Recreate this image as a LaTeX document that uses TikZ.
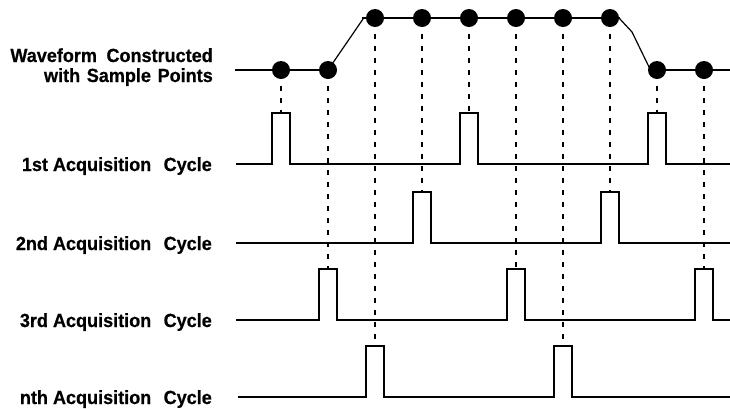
\documentclass[tikz,border=0pt]{standalone}
\usepackage{fontspec}
\setmainfont{Liberation Sans}[BoldFeatures={FakeBold=0.6}]
\pgfdeclarelayer{bg}
\pgfsetlayers{bg,main}
\newcommand{\narrow}[1]{\scalebox{0.95}[1]{#1}}
\begin{document}
\begin{tikzpicture}[x=1pt,y=-1pt,
  wave/.style={line width=2pt},
  ramp/.style={line width=1.2pt},
  trace/.style={line width=1.7pt},
  guide/.style={line width=2pt, dash pattern=on 5pt off 7pt, dash phase=8pt},
  sample/.style={circle, fill=black, inner sep=0pt, minimum size=18pt},
  lab/.style={anchor=base east, inner sep=0pt, font=\bfseries\fontsize{19}{20}\selectfont}]
\useasboundingbox (0,0) rectangle (730,408);

% row captions
\node[lab] (wave1) at (213,62) {\narrow{Waveform\hspace{10pt}Constructed}};
\node[lab] (wave2) at (213,82) {\narrow{with\hspace{7pt}Sample\hspace{7pt}Points}};
\node[lab] (cyc1) at (212,171) {\narrow{1st Acquisition\hspace{13pt}Cycle}};
\node[lab] (cyc2) at (212,250) {\narrow{2nd Acquisition\hspace{13pt}Cycle}};
\node[lab] (cyc3) at (212,327) {\narrow{3rd Acquisition\hspace{13pt}Cycle}};
\node[lab] (cycn) at (212,404) {\narrow{nth Acquisition\hspace{13pt}Cycle}};

% sample points on the reconstructed waveform
\foreach \i/\x/\y in {0/281/70,1/328/70,2/375/18,3/422/18,4/469/18,
                      5/516/18,6/563/18,7/610/18,8/657/70,9/704/70}
  \node[sample] (d\i) at (\x,\y) {};

% tops of the acquisition pulses
\foreach \i/\x/\y in {0/281/113,1/328/269,2/375/346,3/422/192,4/469/113,
                      5/516/269,6/563/346,7/610/192,8/657/113,9/704/269}
  \coordinate (p\i) at (\x,\y);

\coordinate (wstart) at (235,70);
\coordinate (wend) at (730,70);

\begin{pgfonlayer}{bg}
  % waveform through the sample points
  \draw[wave] (wstart) -- (d0.center) -- (d1.center);
  \draw[ramp] (d1.center) -- (363,19);
  \draw[wave] (362,18) -- (d2.center) -- (d3.center) -- (d4.center)
    -- (d5.center) -- (d6.center) -- (d7.center) -- (620,18);
  \draw[ramp] (619,18) -- (632,32) -- (650,69);
  \draw[wave] (649,70) -- (d8.center) -- (d9.center) -- (wend);

  % projections from each sample to its acquisition pulse
  \foreach \i in {0,...,9}
    \draw[guide] (d\i.center) -- (p\i);
\end{pgfonlayer}

% acquisition cycles
\draw[trace] (236,164) -| (272,113) -| (290,164) -| (460,113) -| (478,164)
  -| (648,113) -| (666,164) -- (730,164);
\draw[trace] (236,243) -| (413,192) -| (431,243) -| (601,192) -| (619,243)
  -- (730,243);
\draw[trace] (236,320) -| (319,269) -| (337,320) -| (507,269) -| (525,320)
  -| (695,269) -| (713,320) -- (730,320);
\draw[trace] (238,397) -| (366,346) -| (384,397) -| (554,346) -| (572,397)
  -- (730,397);
\end{tikzpicture}
\end{document}
